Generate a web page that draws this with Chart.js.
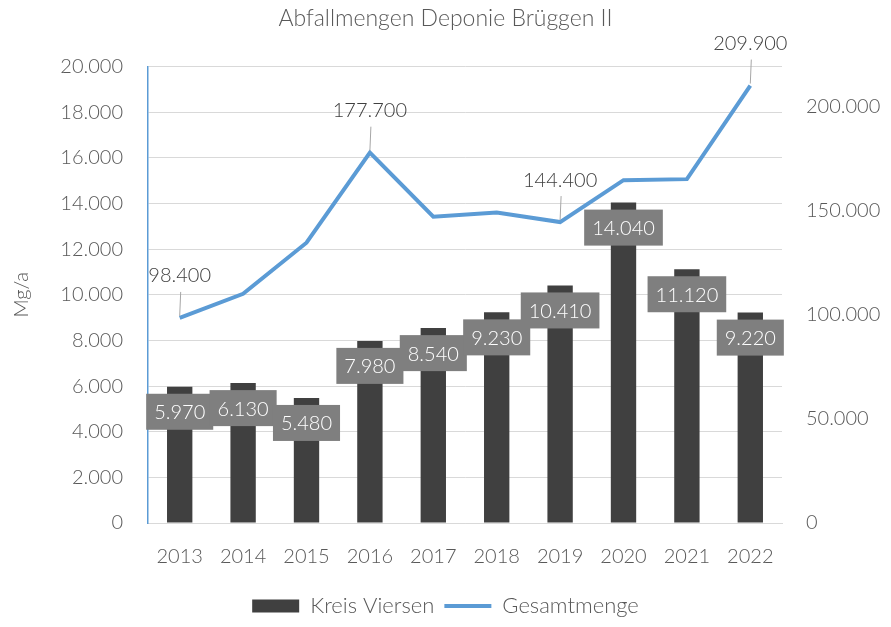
<!DOCTYPE html>
<html>
<head>
<meta charset="utf-8">
<script src="https://cdn.jsdelivr.net/npm/chart.js@4"></script>
<style>
    html, body { margin: 0; padding: 0; background: #fff; }
    #wrap { width: 891px; height: 627px; position: relative; }
</style>
</head>
<body>
<div id="wrap"><canvas id="chart"></canvas></div>
<script>
// Data
const years = ['2013', '2014', '2015', '2016', '2017', '2018', '2019', '2020', '2021', '2022'];
const kreisViersen = [5970, 6130, 5480, 7980, 8540, 9230, 10410, 14040, 11120, 9220];
const gesamtmenge = [98400, 110000, 134500, 177700, 147000, 149000, 144400, 164500, 165000, 209900];
const lineLabelIdx = [0, 3, 6, 9]; // points that carry a value label
const rightTicks = [0, 50000, 100000, 150000, 200000];

const FONT = "'Lato', 'DejaVu Sans', sans-serif";
const TXT = '#595959';
const fmt = v => v.toLocaleString('de-DE');

// Bar labels: grey box just under the bar top, line labels with leaders
const valueLabels = {
    id: 'valueLabels',
    afterDatasetsDraw(chart) {
        const { ctx } = chart;
        const meta = chart.getDatasetMeta(0);
        ctx.save();
        ctx.font = `300 20px ${FONT}`;
        ctx.textAlign = 'center';
        ctx.textBaseline = 'middle';
        meta.data.forEach((bar, i) => {
            const text = fmt(kreisViersen[i]);
            const w = ctx.measureText(text).width + 16;
            const h = 36;
            const cy = bar.y + 25;
            ctx.fillStyle = '#7f7f7f';
            ctx.fillRect(bar.x - w / 2, cy - h / 2, w, h);
            ctx.fillStyle = '#ffffff';
            ctx.fillText(text, bar.x, cy + 1);
        });

        const lmeta = chart.getDatasetMeta(1);
        ctx.fillStyle = '#404040';
        lineLabelIdx.forEach(i => {
            const pt = lmeta.data[i];
            const cy = pt.y - 42;
            ctx.strokeStyle = '#a6a6a6';
            ctx.lineWidth = 1;
            ctx.beginPath();
            ctx.moveTo(pt.x + 1, cy + 16);
            ctx.lineTo(pt.x, pt.y - 2);
            ctx.stroke();
            ctx.fillText(fmt(gesamtmenge[i]), pt.x, cy);
        });
        ctx.restore();
    }
};

const tickFont = { family: FONT, size: 20, weight: '300' };

new Chart(document.getElementById('chart'), {
    type: 'bar',
    data: {
        labels: years,
        datasets: [
            {
                type: 'bar',
                label: 'Kreis Viersen',
                data: kreisViersen,
                backgroundColor: '#404040',
                borderWidth: 0,
                categoryPercentage: 1,
                barPercentage: 0.4,
                pointStyle: 'rect',
                yAxisID: 'y',
                order: 2
            },
            {
                type: 'line',
                label: 'Gesamtmenge',
                data: gesamtmenge,
                borderColor: '#5b9bd5',
                backgroundColor: '#5b9bd5',
                borderWidth: 4,
                pointRadius: 0,
                pointStyle: 'line',
                tension: 0,
                yAxisID: 'y2',
                order: 1
            }
        ]
    },
    options: {
        responsive: true,
        maintainAspectRatio: false,
        animation: false,
        layout: { padding: 0 },
        plugins: {
            title: {
                display: true,
                text: 'Abfallmengen Deponie Brüggen II',
                color: TXT,
                font: { family: FONT, size: 23, weight: '300' },
                padding: { top: 5, bottom: 34 }
            },
            legend: {
                position: 'bottom',
                labels: {
                    usePointStyle: true,
                    pointStyleWidth: 47,
                    boxHeight: 13,
                    color: TXT,
                    font: { family: FONT, size: 22, weight: '300' },
                    padding: 10,
                    sort: (a, b) => a.datasetIndex - b.datasetIndex
                }
            },
            tooltip: { enabled: false }
        },
        scales: {
            x: {
                grid: { display: false, drawTicks: false },
                border: { color: '#d9d9d9', width: 1 },
                ticks: { color: TXT, font: tickFont, padding: 22 },
                afterFit: s => { s.height = 62; }
            },
            y: {
                position: 'left',
                min: 0,
                max: 20000,
                ticks: { stepSize: 2000, color: TXT, font: tickFont, padding: 25, callback: v => fmt(v) },
                grid: { color: '#d9d9d9', drawTicks: false },
                border: { color: '#5b9bd5', width: 1.5 },
                title: {
                    display: true,
                    text: 'Mg/a',
                    color: TXT,
                    font: tickFont,
                    padding: { top: 10, bottom: 0 }
                },
                afterFit: s => { s.width = 148; }
            },
            y2: {
                position: 'right',
                min: 0,
                max: 219000,
                afterBuildTicks: s => { s.ticks = rightTicks.map(v => ({ value: v })); },
                ticks: { color: TXT, font: tickFont, padding: 24, callback: v => fmt(v) },
                grid: { display: false, drawTicks: false },
                border: { display: false },
                afterFit: s => { s.width = 109; }
            }
        }
    },
    plugins: [valueLabels]
});
</script>
</body>
</html>
